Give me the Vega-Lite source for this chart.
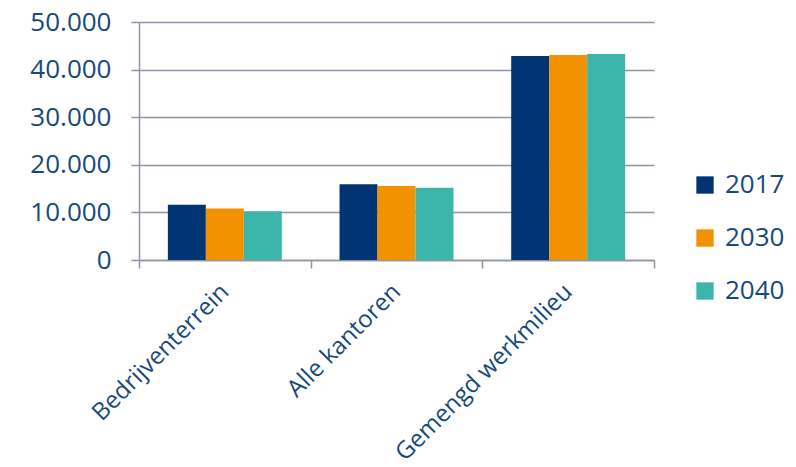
{
  "$schema": "https://vega.github.io/schema/vega-lite/v6.json",
  "width": 515,
  "height": 238,
  "autosize": "none",
  "padding": {"left": 139, "top": 22, "right": 142, "bottom": 207},
  "background": "white",
  "data": {
    "values": [
      {"categorie": "Bedrijventerrein", "jaar": "2017", "waarde": 11600},
      {"categorie": "Bedrijventerrein", "jaar": "2030", "waarde": 10800},
      {"categorie": "Bedrijventerrein", "jaar": "2040", "waarde": 10250},
      {"categorie": "Alle kantoren", "jaar": "2017", "waarde": 15900},
      {"categorie": "Alle kantoren", "jaar": "2030", "waarde": 15550},
      {"categorie": "Alle kantoren", "jaar": "2040", "waarde": 15200},
      {"categorie": "Gemengd werkmilieu", "jaar": "2017", "waarde": 42850},
      {"categorie": "Gemengd werkmilieu", "jaar": "2030", "waarde": 43070},
      {"categorie": "Gemengd werkmilieu", "jaar": "2040", "waarde": 43280}
    ]
  },
  "config": {
    "view": {"stroke": null},
    "font": "Open Sans",
    "axis": {
      "labelColor": "#17497a",
      "domainColor": "#8e95a8",
      "tickColor": "#8e95a8",
      "gridColor": "#8e95a8",
      "domainWidth": 1.5,
      "tickWidth": 1.5,
      "gridWidth": 1.5
    }
  },
  "mark": {"type": "bar"},
  "encoding": {
    "x": {
      "field": "categorie",
      "type": "nominal",
      "sort": ["Bedrijventerrein", "Alle kantoren", "Gemengd werkmilieu"],
      "scale": {"paddingInner": 0, "paddingOuter": 0},
      "axis": {
        "title": null,
        "labelAngle": -45,
        "labelAlign": "right",
        "labelBaseline": "middle",
        "labelFontSize": 24,
        "labelPadding": 20,
        "labelLimit": 400,
        "tickBand": "extent",
        "tickSize": 8,
        "grid": false
      }
    },
    "xOffset": {"field": "jaar", "type": "nominal", "scale": {"paddingInner": 0, "paddingOuter": 0.76}},
    "y": {
      "field": "waarde",
      "type": "quantitative",
      "scale": {"domain": [0, 50000], "nice": false},
      "axis": {
        "title": null,
        "values": [0, 10000, 20000, 30000, 40000, 50000],
        "labelExpr": "replace(format(datum.value, ',d'), ',', '.')",
        "labelFontSize": 26,
        "labelPadding": 20,
        "tickSize": 8,
        "grid": true
      }
    },
    "color": {
      "field": "jaar",
      "type": "nominal",
      "scale": {"domain": ["2017", "2030", "2040"], "range": ["#003473", "#f39200", "#3cb6ab"]},
      "legend": {
        "title": null,
        "orient": "none",
        "legendX": 553,
        "legendY": 150,
        "symbolType": "square",
        "symbolSize": 300,
        "symbolStrokeWidth": 0,
        "symbolOpacity": 1,
        "labelFontSize": 26,
        "labelColor": "#17497a",
        "labelOffset": 7,
        "rowPadding": 27
      }
    }
  }
}
